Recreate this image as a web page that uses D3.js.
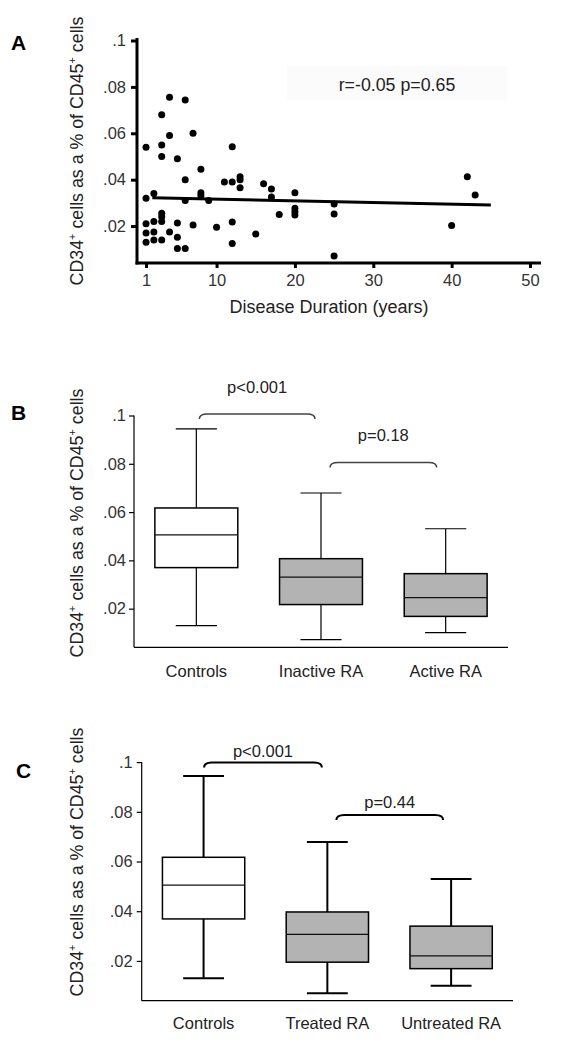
<!DOCTYPE html>
<html><head><meta charset="utf-8">
<script src="https://cdn.jsdelivr.net/npm/d3@7"></script>
<style>body{margin:0;background:#fff}text{font-family:"Liberation Sans",Arial,sans-serif}</style>
</head><body><svg id="c" width="569" height="1050"></svg>
<script>
// ---------- Panel A data ----------
const scatterYears  = [1,1,1,1,1, 2,2,2,2, 3,3,3,3,3,3,3, 4,4,4, 5,5,5,5, 6,6,6,6, 7,7, 8,8,8, 9, 10, 11, 12,12,12,12, 13,13,13, 15, 16, 17,17, 18, 20,20,20,20, 25,25,25, 40, 42, 43];
const scatterValues = [0.054,0.032,0.021,0.017,0.013, 0.034,0.022,0.0175,0.014, 0.068,0.055,0.050,0.0255,0.024,0.022,0.014, 0.0755,0.059,0.0175, 0.049,0.0213,0.0152,0.0103, 0.0744,0.040,0.031,0.0103, 0.060,0.0205, 0.0445,0.0344,0.0332, 0.031, 0.0195, 0.039, 0.0542,0.039,0.0218,0.0125, 0.0413,0.040,0.0365, 0.0166, 0.0382, 0.036,0.0325, 0.025, 0.0344,0.0277,0.0262,0.0248, 0.0295,0.0252,0.0071, 0.0202, 0.0413, 0.0334];
const fitYears  = [1.8, 45];
const fitValues = [0.0322, 0.0291];
const xTicksA = [1, 10, 20, 30, 40, 50];
const yTicks  = [0.02, 0.04, 0.06, 0.08, 0.1];
const annotationA = "r=-0.05 p=0.65";

// ---------- Panel B data ----------
const catsB = ["Controls", "Inactive RA", "Active RA"];
const minB  = [0.013, 0.0072, 0.0101];
const q1B   = [0.037, 0.0217, 0.0168];
const medB  = [0.0506, 0.0331, 0.0246];
const q3B   = [0.0617, 0.0407, 0.0345];
const maxB  = [0.0945, 0.0679, 0.0531];
const pB    = ["p<0.001", "p=0.18"];

// ---------- Panel C data ----------
const catsC = ["Controls", "Treated RA", "Untreated RA"];
const minC  = [0.013, 0.007, 0.010];
const q1C   = [0.0369, 0.0195, 0.0169];
const medC  = [0.0505, 0.0307, 0.022];
const q3C   = [0.0617, 0.0397, 0.034];
const maxC  = [0.0944, 0.0679, 0.053];
const pC    = ["p<0.001", "p=0.44"];

const fills = ["#ffffff", "#b3b3b3", "#b3b3b3"];
const svg = d3.select("#c");
const fmt = d => d === 0.1 ? ".1" : d3.format(".2f")(d).replace(/^0/, "");
const FF = "Liberation Sans, Arial, sans-serif";

function yLabel(cx, cy) {
  const t = svg.append("text").attr("transform", `translate(${cx},${cy}) rotate(-90)`)
    .attr("text-anchor", "middle").attr("font-size", 17.8).attr("fill", "#222");
  t.append("tspan").text("CD34");
  t.append("tspan").attr("dy", -7).attr("font-size", 11).text("+");
  t.append("tspan").attr("dy", 7).text(" cells as a % of CD45");
  t.append("tspan").attr("dy", -7).attr("font-size", 11).text("+");
  t.append("tspan").attr("dy", 7).text(" cells");
}
function panelLetter(txt, x, y) {
  svg.append("text").attr("x", x).attr("y", y).attr("font-size", 21).attr("font-weight", "bold").attr("fill", "#000").text(txt);
}

// ================= Panel A =================
{
  const x = d3.scaleLinear().domain([0, 50]).range([138.2, 530]);
  const y = d3.scaleLinear().domain([0.004, 0.1]).range([263.2, 40.5]);
  const g = svg.append("g");
  g.append("rect").attr("x", 287).attr("y", 66).attr("width", 220).attr("height", 34).attr("fill", "#fbfbfb");
  const ya = g.append("g").attr("transform", "translate(137,0)")
    .call(d3.axisLeft(y).tickValues(yTicks).tickFormat(fmt).tickSize(6).tickPadding(5));
  ya.select(".domain").remove();
  ya.selectAll("line").attr("stroke", "#000").attr("stroke-width", 3);
  ya.selectAll("text").attr("font-size", 16.5).attr("fill", "#333").attr("font-family", FF);
  const xa = g.append("g").attr("transform", "translate(0,263)")
    .call(d3.axisBottom(x).tickValues(xTicksA).tickFormat(d3.format("d")).tickSize(5).tickPadding(6));
  xa.select(".domain").remove();
  xa.selectAll("line").attr("stroke", "#000").attr("stroke-width", 3);
  xa.selectAll("text").attr("font-size", 16.5).attr("fill", "#333").attr("font-family", FF);
  g.append("line").attr("x1", 137).attr("x2", 137).attr("y1", 38).attr("y2", 264.5).attr("stroke", "#000").attr("stroke-width", 3);
  g.append("line").attr("x1", 135.5).attr("x2", 541).attr("y1", 263).attr("y2", 263).attr("stroke", "#000").attr("stroke-width", 3);
  g.selectAll("circle.pt").data(scatterYears.map((d, i) => [d, scatterValues[i]])).join("circle")
    .attr("class", "pt").attr("cx", d => x(d[0])).attr("cy", d => y(d[1])).attr("r", 3.5).attr("fill", "#000");
  g.append("path").datum(fitYears.map((d, i) => [d, fitValues[i]]))
    .attr("d", d3.line().x(d => x(d[0])).y(d => y(d[1])))
    .attr("stroke", "#000").attr("stroke-width", 3).attr("fill", "none");
  g.append("text").attr("x", 397).attr("y", 91).attr("text-anchor", "middle").attr("font-size", 17.8).attr("fill", "#222").text(annotationA);
  g.append("text").attr("x", 329).attr("y", 313).attr("text-anchor", "middle").attr("font-size", 18).attr("fill", "#222").text("Disease Duration (years)");
  yLabel(83, 151);
  panelLetter("A", 11, 50);
}

// ================= Box panels =================
function boxPanel(o) {
  const x = d3.scaleBand().domain(o.cats).range([o.x0, o.x1]);
  const y = d3.scaleLinear().domain([0.004, 0.1]).range([o.yb, o.yt]);
  const g = svg.append("g");
  const ya = g.append("g").attr("transform", `translate(${o.x0},0)`)
    .call(d3.axisLeft(y).tickValues(yTicks).tickFormat(fmt).tickSize(5).tickPadding(o.pad));
  ya.select(".domain").remove();
  ya.selectAll("line").attr("stroke", "#000").attr("stroke-width", 1.2);
  ya.selectAll("text").attr("font-size", 16.5).attr("fill", "#333").attr("font-family", FF);
  const xa = g.append("g").attr("transform", `translate(0,${o.yb})`)
    .call(d3.axisBottom(x).tickSize(0).tickPadding(o.catPad));
  xa.select(".domain").remove();
  xa.selectAll("text").attr("font-size", 16.5).attr("fill", "#222").attr("font-family", FF);
  g.append("line").attr("x1", o.x0).attr("x2", o.x0).attr("y1", y(0.1)).attr("y2", o.yb).attr("stroke", "#000").attr("stroke-width", 1.2);
  g.append("line").attr("x1", o.x0).attr("x2", o.x1).attr("y1", o.yb).attr("y2", o.yb).attr("stroke", "#000").attr("stroke-width", 1.2);
  const bw = x.bandwidth() * 0.665, cw = x.bandwidth() * 0.33;
  o.cats.forEach((c, i) => {
    const cx = x(c) + x.bandwidth() / 2;
    g.append("line").attr("x1", cx).attr("x2", cx).attr("y1", y(o.max[i])).attr("y2", y(o.q3[i])).attr("stroke", "#000").attr("stroke-width", o.wsw);
    g.append("line").attr("x1", cx).attr("x2", cx).attr("y1", y(o.q1[i])).attr("y2", y(o.min[i])).attr("stroke", "#000").attr("stroke-width", o.wsw);
    g.append("line").attr("x1", cx - cw / 2).attr("x2", cx + cw / 2).attr("y1", y(o.max[i])).attr("y2", y(o.max[i])).attr("stroke", "#000").attr("stroke-width", o.wsw);
    g.append("line").attr("x1", cx - cw / 2).attr("x2", cx + cw / 2).attr("y1", y(o.min[i])).attr("y2", y(o.min[i])).attr("stroke", "#000").attr("stroke-width", o.wsw);
    g.append("rect").attr("x", cx - bw / 2).attr("y", y(o.q3[i])).attr("width", bw).attr("height", y(o.q1[i]) - y(o.q3[i]))
      .attr("fill", fills[i]).attr("stroke", "#000").attr("stroke-width", 1.5);
    g.append("line").attr("x1", cx - bw / 2).attr("x2", cx + bw / 2).attr("y1", y(o.med[i])).attr("y2", y(o.med[i])).attr("stroke", "#111").attr("stroke-width", 1.3);
  });
  o.br.forEach((b, k) => {
    const x1 = x(o.cats[k]) + x.bandwidth() / 2 + b.o1, x2 = x(o.cats[k + 1]) + x.bandwidth() / 2 + b.o2, yy = b.y;
    g.append("path").attr("d", `M${x1},${yy + 5} Q${x1},${yy} ${x1 + 8},${yy} L${x2 - 8},${yy} Q${x2},${yy} ${x2},${yy + 5}`)
      .attr("fill", "none").attr("stroke", o.bcol).attr("stroke-width", o.bsw);
    g.append("text").attr("x", (x1 + x2) / 2).attr("y", b.ty).attr("text-anchor", "middle").attr("font-size", 16.5).attr("fill", "#222").text(o.p[k]);
  });
}

boxPanel({cats: catsB, min: minB, q1: q1B, med: medB, q3: q3B, max: maxB, p: pB,
  x0: 134, x1: 508, yb: 647.3, yt: 415.5, pad: 3, catPad: 18, wsw: 1.2, bsw: 1.5, bcol: "#444",
  br: [{o1: 3, o2: -6, y: 414, ty: 393}, {o1: 9, o2: -9, y: 462.5, ty: 441}]});
yLabel(83, 523);
panelLetter("B", 11, 420);

boxPanel({cats: catsC, min: minC, q1: q1C, med: medC, q3: q3C, max: maxC, p: pC,
  x0: 141.7, x1: 513, yb: 1000.7, yt: 762.1, pad: 4, catPad: 17, wsw: 2, bsw: 2, bcol: "#000",
  br: [{o1: 0.5, o2: -5.5, y: 762.5, ty: 757}, {o1: 9, o2: -8, y: 815, ty: 808}]});
yLabel(83, 862);
panelLetter("C", 16, 778);
</script></body></html>
